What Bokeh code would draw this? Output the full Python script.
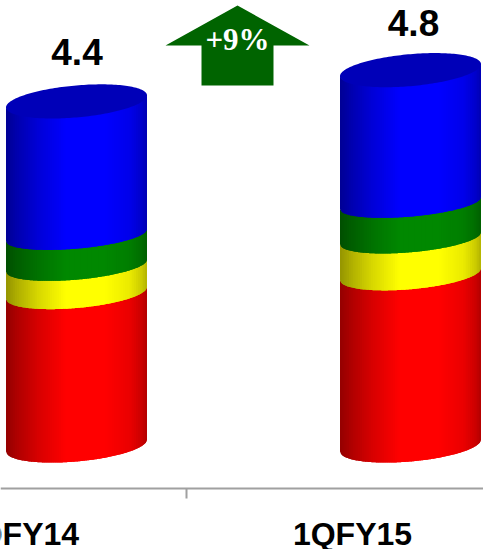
from bokeh.embed import file_html
from bokeh.resources import INLINE
from bokeh.plotting import figure
from bokeh.models import Range1d
from bokeh.core.properties import value
import numpy as np

# Data
categories = ["2QFY14", "1QFY15"]
totals = [4.4, 4.8]
red = [1.95, 2.19]
yellow = [0.35, 0.46]
green = [0.39, 0.45]
blue = [1.71, 1.70]
change_label = "+9%"

colours = [(255, 0, 0), (255, 255, 0), (0, 136, 0), (0, 0, 255)]
series = [red, yellow, green, blue]

# Scales: pixels per category step and per unit of value
W, H = 483, 549
X_STEP = 334.0
Y_UNIT = 78.2
ZERO_X = 19.0
ZERO_Y = 445.0
dx = lambda px: px / X_STEP
dy = lambda px: px / Y_UNIT
ay = lambda px: (ZERO_Y - px) / Y_UNIT

p = figure(width=W, height=H, output_backend="svg", toolbar_location=None,
           x_range=Range1d(-ZERO_X / X_STEP, (W - ZERO_X) / X_STEP),
           y_range=Range1d(-(H - ZERO_Y) / Y_UNIT, ZERO_Y / Y_UNIT),
           min_border=0, min_border_left=0, min_border_right=0,
           min_border_top=0, min_border_bottom=0,
           y_axis_location=None, x_axis_location=None)
p.grid.visible = False
p.outline_line_color = None
p.background_fill_color = "white"
p.border_fill_color = "white"

# Baseline rule across the plot with a divider tick between the groups
p.segment([-ZERO_X / X_STEP, 0.5], [ay(488), ay(488)],
          [(W - ZERO_X) / X_STEP, 0.5], [ay(488), ay(498)],
          line_color="#A0A0A0", line_width=2)

# Category names sit on the group positions, so the first one runs off the left edge
for i, name in enumerate(categories):
    p.text([i], [ay(533)], text=[name], x_offset=-i,
           text_font=value("Liberation Sans"), text_font_style="bold",
           text_font_size="32px", text_align="center", text_baseline="alphabetic",
           text_color="black")

# Cylinder geometry
BAR_OFFSET = dx(57)
HALF_W = dx(70.5)
TILT = dy(6)
DEPTHS = [dy(16), dy(15), dy(14), dy(13.5), dy(16)]
STOPS_U = [-1.0, -0.85, -0.55, -0.15, 0.4, 0.75, 0.92, 1.0]
STOPS_B = [0.58, 0.68, 0.84, 1.0, 1.0, 0.92, 0.8, 0.7]
N_STRIPS = 64
SEAM = dy(0.8)


def front_edge(level, depth, u):
    return level + TILT * u - depth * np.sqrt(np.clip(1 - u * u, 0, 1))


def shade(rgb, b):
    return "#%02x%02x%02x" % tuple(int(round(c * b)) for c in rgb)


xs, ys, fills = [], [], []
u_edges = np.linspace(-1, 1, N_STRIPS + 1)
du = u_edges[1] - u_edges[0]
for i in range(len(categories)):
    cx = i + BAR_OFFSET
    level = 0.0
    for s, vals in enumerate(series):
        top = level + vals[i]
        # Each strip overlaps the next one, which paints over it and hides the joins
        for u0 in u_edges[:-1]:
            um = u0 + du / 2
            uu = np.linspace(u0, min(1.0, u0 + 2 * du), 5)
            low = front_edge(level, DEPTHS[s], uu)
            up = front_edge(top, DEPTHS[s + 1], uu) + SEAM
            xs.append(list(cx + HALF_W * uu) + list(cx + HALF_W * uu[::-1]))
            ys.append(list(low) + list(up[::-1]))
            fills.append(shade(colours[s], float(np.interp(um, STOPS_U, STOPS_B))))
        level = top

p.patches(xs, ys, fill_color=fills, line_color=None)

# Cylinder caps
theta = np.linspace(0, 2 * np.pi, 181)
for i in range(len(categories)):
    cx = i + BAR_OFFSET
    p.patch(cx + HALF_W * np.cos(theta),
            sum(s[i] for s in series) + TILT * np.cos(theta) + DEPTHS[-1] * np.sin(theta),
            fill_color="#0000b8", line_color=None)

# Totals above each cylinder
p.text([BAR_OFFSET + dx(0.5), 1 + BAR_OFFSET + dx(3)],
       [totals[0] + dy(49), totals[1] + dy(47.6)],
       text=[f"{t:.1f}" for t in totals],
       text_font=value("Liberation Sans"), text_font_style="bold",
       text_font_size="37px", text_align="center", text_baseline="alphabetic",
       text_color="black")

# Growth arrow between the groups
ax0 = 0.5 + dx(51)
arrow_x = [ax0, ax0 + dx(72), ax0 + dx(36), ax0 + dx(36), ax0 - dx(36), ax0 - dx(36), ax0 - dx(72)]
arrow_y = [ay(5), ay(45), ay(45), ay(85), ay(85), ay(45), ay(45)]
p.patch(arrow_x, arrow_y, fill_color="#006400", line_color=None)
p.text([ax0], [ay(39)], text=[change_label],
       text_font=value("Liberation Serif"), text_font_style="bold",
       text_font_size="31px", text_align="center", text_baseline="alphabetic",
       text_color="white")

open("out.html", "w").write(file_html(p, INLINE))
